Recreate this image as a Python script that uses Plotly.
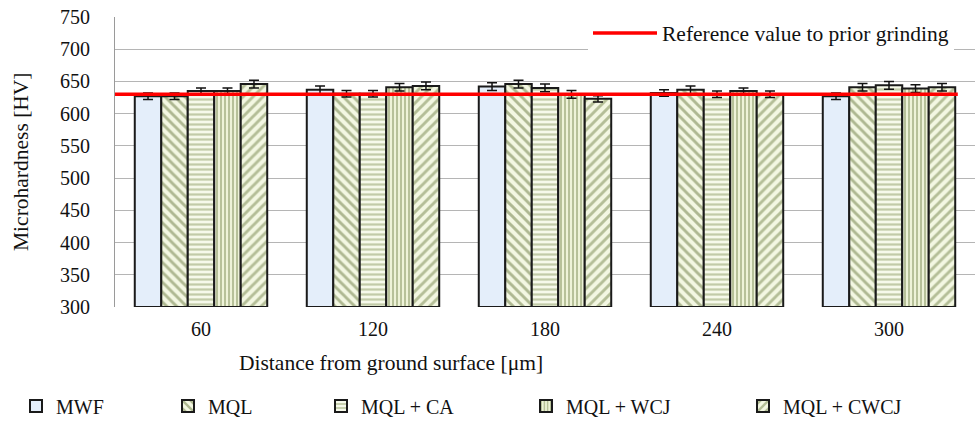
import plotly.graph_objects as go

categories = ["60", "120", "180", "240", "300"]
series_names = ["MWF", "MQL", "MQL + CA", "MQL + WCJ", "MQL + CWCJ"]
mwf = [627, 637, 642, 632, 627]
mql = [627, 631, 646, 637, 641]
mql_ca = [635, 631, 640, 630, 644]
mql_wcj = [635, 641, 630, 635, 639]
mql_cwcj = [646, 643, 623, 630, 641]
mwf_err = [5, 6, 6, 5, 5]
mql_err = [5, 5, 6, 6, 6]
mql_ca_err = [5, 5, 6, 5, 6]
mql_wcj_err = [5, 6, 6, 5, 6]
mql_cwcj_err = [6, 6, 5, 5, 6]
reference_value = 630
reference_label = "Reference value to prior grinding"
y_ticks = [300, 350, 400, 450, 500, 550, 600, 650, 700, 750]

FONT = "Liberation Serif, Times New Roman, serif"
W, H = 977, 424
ML, MT = 115, 17
PLOT_R, PLOT_B = 975, 307
MR, MB = W - PLOT_R, H - PLOT_B
PW, PH = W - ML - MR, H - MT - MB
x_pos = list(range(len(categories)))

styles = [
    dict(color="#e4eefa", pattern=None),
    dict(color="#f3f7e2", pattern=dict(shape="\\", fgcolor="#6a7a40", bgcolor="#f3f7e2", size=7, solidity=0.42)),
    dict(color="#f3f7e2", pattern=dict(shape="-", fgcolor="#8e9e65", bgcolor="#f6f9ea", size=5, solidity=0.45)),
    dict(color="#eef3d8", pattern=dict(shape="|", fgcolor="#73854a", bgcolor="#eef3d8", size=4, solidity=0.45)),
    dict(color="#f3f7e2", pattern=dict(shape="/", fgcolor="#75864b", bgcolor="#f3f7e2", size=7, solidity=0.42)),
]
values = [mwf, mql, mql_ca, mql_wcj, mql_cwcj]
errors = [mwf_err, mql_err, mql_ca_err, mql_wcj_err, mql_cwcj_err]
legend_icon_px = [32, 184, 337, 542, 759]
legend_ids = ["legend", "legend3", "legend4", "legend5", "legend6"]

fig = go.Figure()
for name, vals, errs, st, lid in zip(series_names, values, errors, styles, legend_ids):
    marker = dict(color=st["color"], line=dict(color="#1a1a1a", width=2))
    if st["pattern"]:
        marker["pattern"] = st["pattern"]
    fig.add_trace(go.Bar(
        x=x_pos, y=[v - y_ticks[0] for v in vals], base=y_ticks[0], name=name,
        marker=marker,
        error_y=dict(type="data", array=errs, color="#111111", thickness=1.5, width=5),
        legend=lid,
    ))

x_min, x_max = -0.5, len(categories) - 0.6
fig.add_trace(go.Scatter(
    x=[x_min, x_max], y=[reference_value, reference_value], mode="lines",
    line=dict(color="#ff0000", width=3.5), name=reference_label, legend="legend2",
))

layout_legends = {}
for lid, px in zip(legend_ids, legend_icon_px):
    layout_legends[lid] = dict(
        x=(px - 16) / W, xref="container", xanchor="left",
        y=1 - 406 / H, yref="container", yanchor="middle",
        font=dict(family=FONT, size=20), itemwidth=30,
        bgcolor="rgba(0,0,0,0)", orientation="h")

fig.update_layout(
    width=W, height=H,
    margin=dict(l=ML, r=MR, t=MT, b=MB, autoexpand=False),
    paper_bgcolor="white", plot_bgcolor="white",
    font=dict(family=FONT, size=20, color="#111111"),
    barmode="group", bargap=0.23, bargroupgap=0,
    showlegend=True,
    legend2=dict(x=(588 - ML) / PW, xanchor="left",
                 y=(MT + PH - 33) / PH, yanchor="middle",
                 font=dict(family=FONT, size=21.5), itemwidth=64,
                 bgcolor="white"),
    annotations=[
        dict(text="Distance from ground surface [μm]", x=(391 - ML) / PW, xref="paper",
             y=-(363 - (MT + PH)) / PH, yref="paper", yanchor="middle", xanchor="center",
             showarrow=False, font=dict(family=FONT, size=21.5)),
        dict(text="Microhardness [HV]", x=(21 - ML) / PW, xref="paper", textangle=-90,
             y=0.5, yref="paper", yanchor="middle", xanchor="center",
             showarrow=False, font=dict(family=FONT, size=21.5)),
    ],
    **layout_legends,
)
fig.update_xaxes(tickvals=x_pos, ticktext=categories, range=[-0.5, len(categories) - 0.5],
                 showgrid=False, showline=False, zeroline=False, ticks="", automargin=False,
                 tickfont=dict(family=FONT, size=20), ticklabelstandoff=8)
fig.update_yaxes(range=[y_ticks[0], y_ticks[-1] + 0.01], tickvals=y_ticks, automargin=False,
                 showgrid=True, gridcolor="#b5b5b5", gridwidth=1,
                 showline=True, linecolor="#9a9a9a", linewidth=1, zeroline=False,
                 ticks="", tickfont=dict(family=FONT, size=20), ticklabelstandoff=20)

fig.write_html("out.html", config={"displayModeBar": False},
               post_script="document.body.style.margin='0';")
